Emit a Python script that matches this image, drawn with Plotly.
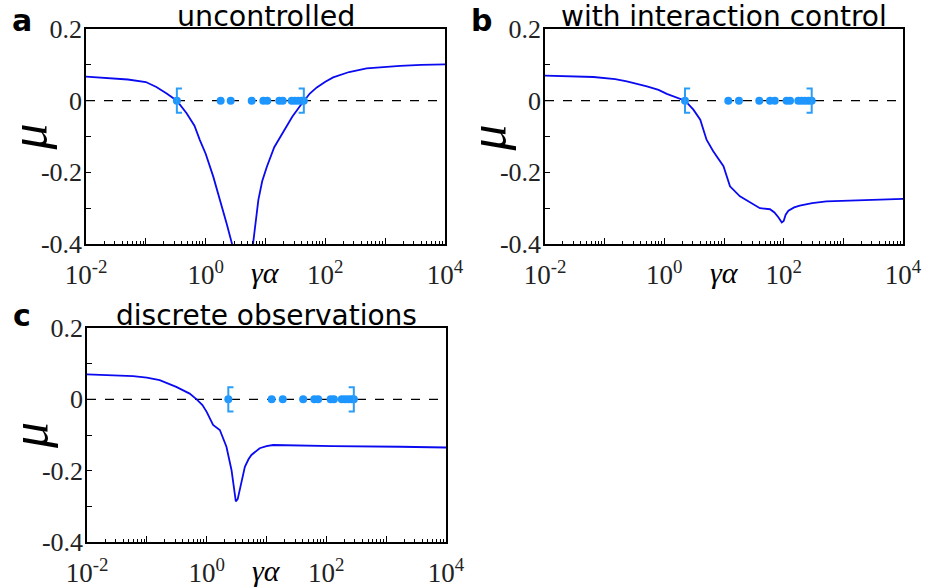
import plotly.graph_objects as go

# ---------------- data ----------------
# panel a : uncontrolled
a_x = [0.01, 0.02, 0.05, 0.1, 0.15, 0.223, 0.33, 0.48, 0.65, 0.80, 1.0, 1.34, 1.74, 2.24, 2.76, 3.3,
       5.5, 6.2, 6.8, 7.6, 8.8, 10.5, 14, 20, 28, 37.8, 44, 55, 72, 100, 135, 250, 490, 1000, 1780,
       4000, 10000]
a_y = [0.067, 0.064, 0.059, 0.052, 0.038, 0.020, 0.0, -0.035, -0.070, -0.110, -0.148, -0.212, -0.277,
       -0.343, -0.400, -0.45, -0.47, -0.400, -0.340, -0.277, -0.225, -0.185, -0.130, -0.085, -0.045,
       -0.015, 0.0, 0.020, 0.037, 0.053, 0.065, 0.080, 0.090, 0.095, 0.097, 0.100, 0.101]
a_dots = [0.33, 1.78, 2.62, 5.88, 9.2, 10.7, 17, 19.4, 27.4, 31, 35.3, 40, 43.7]

# panel b : with interaction control
b_x = [0.01, 0.03, 0.065, 0.15, 0.235, 0.51, 0.8, 1.1, 1.6, 2.23, 3.07, 4.0, 5.1, 6.6, 9.8, 12.6,
       18.5, 25, 31, 40, 59, 70, 82, 93, 100, 108, 120, 150, 186, 300, 520, 1900, 10000]
b_y = [0.070, 0.068, 0.066, 0.060, 0.054, 0.040, 0.030, 0.019, 0.009, 0.0, -0.025, -0.053, -0.109,
       -0.141, -0.183, -0.239, -0.267, -0.280, -0.290, -0.300, -0.303, -0.312, -0.326, -0.340,
       -0.336, -0.318, -0.307, -0.298, -0.293, -0.286, -0.281, -0.278, -0.274]
b_dots = [2.22, 11.8, 17.8, 39, 59, 71, 112, 128, 176, 200, 228, 259, 295]

# panel c : discrete observations
c_x = [0.01, 0.03, 0.059, 0.1, 0.164, 0.31, 0.52, 0.68, 0.85, 1.0, 1.28, 1.66, 2.14, 2.6, 3.07,
       3.3, 3.58, 4.0, 4.35, 5.0, 5.6, 7.7, 10, 12.9, 36, 130, 1700, 10000]
c_y = [0.070, 0.068, 0.065, 0.061, 0.054, 0.035, 0.016, 0.0, -0.016, -0.035, -0.072, -0.086,
       -0.133, -0.198, -0.286, -0.280, -0.254, -0.210, -0.189, -0.168, -0.156, -0.137, -0.131,
       -0.128, -0.130, -0.131, -0.133, -0.135]
c_dots = [2.3, 12.2, 18.7, 41, 63, 73, 118, 134, 181, 205, 234, 265, 288]

titles = ["uncontrolled", "with interaction control", "discrete observations"]
letters = ["a", "b", "c"]
x_tickvals = [1e-2, 1e-1, 1e0, 1e1, 1e2, 1e3, 1e4]
x_ticktext = ["10<sup>-2</sup>", "", "10<sup>0</sup>", "", "10<sup>2</sup>", "", "10<sup>4</sup>"]
y_tickvals = [0.2, 0.1, 0.0, -0.1, -0.2, -0.3, -0.4]
y_ticktext = ["0.2", "", "0", "", "-0.2", "", "-0.4"]

# ---------------- layout geometry ----------------
W, H = 925, 588
panels = [  # (x0, x1, ytop, ybottom) in pixels
    (86, 445, 29, 244),
    (545, 903, 29, 244),
    (87, 446, 328, 542),
]
curves = [(a_x, a_y, a_dots), (b_x, b_y, b_dots), (c_x, c_y, c_dots)]
title_sizes = [28.5, 28, 28]
letter_dy = [9, 9, 13]

LINE = "#0a0af0"
DOT = "#1E96FF"
BRK = "#2A9DF8"
SERIF = "Liberation Serif"
SANS = "DejaVu Sans"

fig = go.Figure()
minor_vals = [m * 10 ** e for e in range(-2, 4) for m in range(2, 10)]

annotations = []
shapes = []
for i, ((x0, x1, yt, yb), (cx, cy, dots)) in enumerate(zip(panels, curves)):
    sfx = "" if i == 0 else str(i + 1)
    xa, ya = "x" + sfx, "y" + sfx
    fig.add_trace(go.Scatter(x=cx, y=cy, mode="lines", line=dict(color=LINE, width=1.8),
                             xaxis=xa, yaxis=ya, showlegend=False, hoverinfo="skip"))
    fig.add_trace(go.Scatter(x=dots, y=[0] * len(dots), mode="markers",
                             marker=dict(color=DOT, size=8), xaxis=xa, yaxis=ya,
                             showlegend=False, hoverinfo="skip"))
    lo, hi = min(dots), max(dots)
    h = 0.034
    f = 1.22
    fig.add_trace(go.Scatter(x=[lo * f, lo, lo, lo * f], y=[h, h, -h, -h], mode="lines",
                             line=dict(color=BRK, width=2), xaxis=xa, yaxis=ya,
                             showlegend=False, hoverinfo="skip"))
    fig.add_trace(go.Scatter(x=[hi / f, hi, hi, hi / f], y=[h, h, -h, -h], mode="lines",
                             line=dict(color=BRK, width=2), xaxis=xa, yaxis=ya,
                             showlegend=False, hoverinfo="skip"))
    shapes.append(dict(type="line", xref=xa + " domain", yref=ya, x0=0, x1=1, y0=0, y1=0,
                       line=dict(color="black", width=1.3, dash="dash"), layer="below"))

    dom_x = [x0 / W, x1 / W]
    dom_y = [1 - yb / H, 1 - yt / H]
    fig.update_layout(**{
        "xaxis" + sfx: dict(domain=dom_x, type="log", range=[-2, 4], anchor=ya,
                            automargin=False,
                            showline=True, linecolor="black", linewidth=1.5, mirror=True,
                            ticks="inside", ticklen=6, tickwidth=1, tickcolor="black",
                            tickvals=x_tickvals, ticktext=x_ticktext,
                            tickfont=dict(family=SERIF, size=27, color="#222"),
                            ticklabelstandoff=6, showgrid=False, zeroline=False,
                            minor=dict(tickvals=minor_vals, ticks="inside", ticklen=3,
                                       tickcolor="black", showgrid=False)),
        "yaxis" + sfx: dict(domain=dom_y, range=[-0.4, 0.2], anchor=xa,
                            automargin=False,
                            showline=True, linecolor="black", linewidth=1.5, mirror=True,
                            ticks="inside", ticklen=5, tickwidth=1, tickcolor="black",
                            tickvals=y_tickvals, ticktext=y_ticktext,
                            tickfont=dict(family=SERIF, size=26, color="#222"),
                            ticklabelstandoff=-3,
                            showgrid=False, zeroline=False),
    })
    cxp = (x0 + x1) / 2
    # title
    annotations.append(dict(text=titles[i], x=cxp / W, y=1 - (yt - 13) / H, xref="paper", yref="paper",
                            xanchor="center", yanchor="middle", showarrow=False,
                            font=dict(family=SANS, size=title_sizes[i], color="black")))
    # panel letter
    annotations.append(dict(text="<b>" + letters[i] + "</b>", x=(x0 - 76) / W,
                            y=1 - (yt - letter_dy[i]) / H,
                            xref="paper", yref="paper", xanchor="left", yanchor="middle",
                            showarrow=False, font=dict(family=SANS, size=30, color="black")))
    # y label
    annotations.append(dict(text="<i>μ</i>", x=(x0 - 58) / W, y=1 - ((yt + yb) / 2 + 1) / H,
                            xref="paper", yref="paper", xanchor="center", yanchor="middle",
                            textangle=-90, showarrow=False,
                            font=dict(family=SERIF, size=52, color="black")))
    # x label
    annotations.append(dict(text="<i>γα</i>", x=cxp / W, y=1 - (yb + 28) / H,
                            xref="paper", yref="paper", xanchor="center", yanchor="middle",
                            showarrow=False, font=dict(family=SERIF, size=30, color="black")))

fig.update_layout(width=W, height=H, margin=dict(l=0, r=0, t=0, b=0, autoexpand=False),
                  template="none",
                  paper_bgcolor="white", plot_bgcolor="white",
                  annotations=annotations, shapes=shapes, showlegend=False)

fig.write_html("out.html", config={"displayModeBar": False},
               post_script="document.body.style.margin='0px';")
